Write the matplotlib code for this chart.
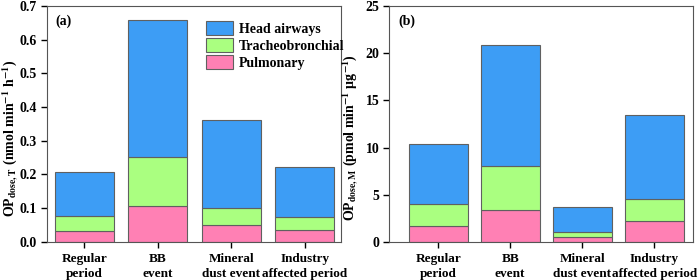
import matplotlib
matplotlib.use("Agg")
import matplotlib.pyplot as plt

plt.rcParams["font.family"] = ["Liberation Serif", "DejaVu Serif"]
plt.rcParams["font.weight"] = "bold"
plt.rcParams["mathtext.fontset"] = "stix"

categories = ["Regular\nperiod", "BB\nevent", "Mineral\ndust event", "Industry\naffected period"]
layers = ["Pulmonary", "Tracheobronchial", "Head airways"]
colors = ["#ff80b4", "#aaff80", "#3d9df5"]

# (a) OP dose T: cumulative tops per layer
pulm_a = [0.033, 0.108, 0.049, 0.035]
tb_top_a = [0.078, 0.252, 0.102, 0.073]
total_a = [0.207, 0.657, 0.362, 0.221]

# (b) OP dose M
pulm_b = [1.7, 3.4, 0.5, 2.2]
tb_top_b = [4.0, 8.0, 1.0, 4.5]
total_b = [10.4, 20.9, 3.7, 13.4]


def stacked(ax, pulm, tb_top, total, width):
    x = range(len(categories))
    tb = [t - p for t, p in zip(tb_top, pulm)]
    head = [t - s for t, s in zip(total, tb_top)]
    kw = dict(width=width, edgecolor="#606060", linewidth=0.8)
    ax.bar(x, pulm, color=colors[0], label=layers[0], **kw)
    ax.bar(x, tb, bottom=pulm, color=colors[1], label=layers[1], **kw)
    ax.bar(x, head, bottom=tb_top, color=colors[2], label=layers[2], **kw)
    ax.set_xticks(list(x))
    ax.set_xticklabels(categories, fontsize=9.5, fontweight="bold", linespacing=1.3)
    ax.tick_params(axis="both", direction="out", length=4, width=1, labelsize=10, pad=3)
    ax.tick_params(axis="x", labelsize=9.5, pad=4)
    for lab in ax.get_yticklabels():
        lab.set_fontweight("bold")
    for s in ax.spines.values():
        s.set_color("#555555")


fig = plt.figure(figsize=(7, 2.8), dpi=100)
ax1 = fig.add_axes([0.067, 0.136, 0.42, 0.843])
ax2 = fig.add_axes([0.556, 0.136, 0.434, 0.843])

stacked(ax1, pulm_a, tb_top_a, total_a, 0.8)
ax1.set_xlim(-0.51, 3.49)
ax1.set_ylim(0, 0.7)
ax1.set_yticks([0.0, 0.1, 0.2, 0.3, 0.4, 0.5, 0.6, 0.7])
ax1.set_yticklabels(["0.0", "0.1", "0.2", "0.3", "0.4", "0.5", "0.6", "0.7"])
ax1.set_ylabel(r"OP$_{\mathbf{dose,T}}$ (nmol min$^{\mathbf{-1}}$ h$^{\mathbf{-1}}$)",
               fontsize=10, fontweight="bold")
ax1.yaxis.set_label_coords(-0.088, 0.44)
ax1.text(0.03, 0.965, "(a)", transform=ax1.transAxes, ha="left", va="top",
         fontsize=10, fontweight="bold")
h, l = ax1.get_legend_handles_labels()
ax1.legend(h[::-1], l[::-1], loc="upper left", bbox_to_anchor=(0.54, 0.935),
           frameon=False, handlelength=2.0, handleheight=1.2,
           labelspacing=0.15, handletextpad=0.4, borderaxespad=0.0,
           borderpad=0.0, prop={"weight": "bold", "size": 10})

stacked(ax2, pulm_b, tb_top_b, total_b, 0.82)
ax2.set_xlim(-0.68, 3.54)
ax2.set_ylim(0, 25)
ax2.set_yticks([0, 5, 10, 15, 20, 25])
ax2.set_ylabel(r"OP$_{\mathbf{dose,M}}$ (pmol min$^{\mathbf{-1}}$ μg$^{\mathbf{-1}}$)",
               fontsize=10, fontweight="bold")
ax2.yaxis.set_label_coords(-0.092, 0.44)
ax2.text(0.03, 0.965, "(b)", transform=ax2.transAxes, ha="left", va="top",
         fontsize=10, fontweight="bold")

fig.savefig("out.png", dpi=100)
